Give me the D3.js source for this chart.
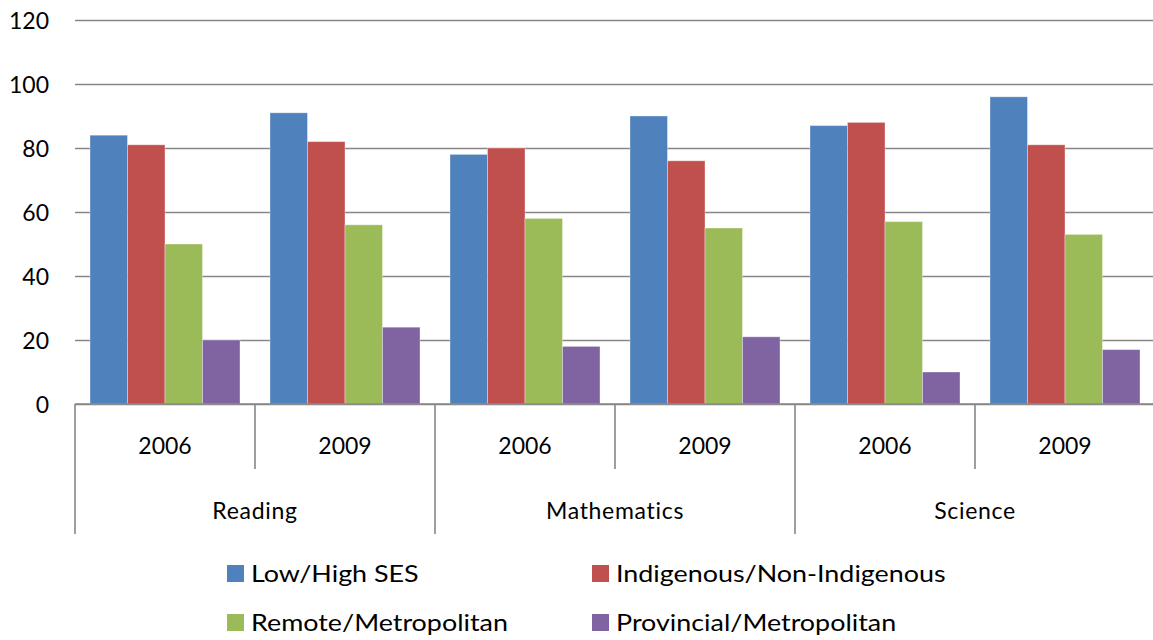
<!DOCTYPE html>
<html>
<head>
<meta charset="utf-8">
<script src="https://cdn.jsdelivr.net/npm/d3@7"></script>
<style>
  body { margin: 0; background: #fff; }
  text { font-family: Lato, "Open Sans", sans-serif; fill: #000; }
</style>
</head>
<body>
<script>
// data
var subjects = ["Reading", "Mathematics", "Science"];
var years = ["2006", "2009"];
var seriesNames = ["Low/High SES", "Indigenous/Non-Indigenous", "Remote/Metropolitan", "Provincial/Metropolitan"];
var seriesColors = ["#4F81BD", "#C0504D", "#9BBB59", "#8064A2"];
var lowHighSES = [84, 91, 78, 90, 87, 96];
var indigenous = [81, 82, 80, 76, 88, 81];
var remote = [50, 56, 58, 55, 57, 53];
var provincial = [20, 24, 18, 21, 10, 17];
var yTicks = [0, 20, 40, 60, 80, 100, 120];

var seriesValues = [lowHighSES, indigenous, remote, provincial];

var width = 1153, height = 640;
var plotLeft = 75, plotRight = 1155, plotTop = 20, plotBottom = 404;

var svg = d3.select("body")
  .append("svg")
  .attr("width", width)
  .attr("height", height);

// one slot per subject/year pair
var slots = [];
subjects.forEach(function(s) {
  years.forEach(function(y) { slots.push(s + "|" + y); });
});

var x0 = d3.scaleBand()
  .domain(slots)
  .range([plotLeft, plotRight])
  .padding(0);

var x1 = d3.scaleBand()
  .domain(d3.range(seriesNames.length))
  .range([0, x0.bandwidth()])
  .paddingInner(0)
  .paddingOuter(0.4);

var y = d3.scaleLinear()
  .domain([0, 120])
  .range([plotBottom, plotTop]);

// gridlines + y labels
var yAxis = d3.axisLeft(y)
  .tickValues(yTicks)
  .tickSize(-(plotRight - plotLeft))
  .tickPadding(26);

var gy = svg.append("g")
  .attr("transform", "translate(" + plotLeft + ",0)")
  .call(yAxis);
gy.select(".domain").remove();
gy.selectAll(".tick line")
  .attr("stroke", "#868686")
  .attr("stroke-width", 1.6);
gy.selectAll(".tick text")
  .style("font-size", "23px")
  .style("font-family", "Lato, sans-serif")
  .attr("fill", "#000")
  .attr("dy", "0.36em");

// bars
var rows = slots.map(function(k, i) {
  return seriesValues.map(function(vals, j) {
    return { slot: k, series: j, value: vals[i] };
  });
});

svg.append("g")
  .selectAll("g")
  .data(rows)
  .enter()
  .append("g")
    .attr("transform", function(d, i) { return "translate(" + x0(slots[i]) + ",0)"; })
  .selectAll("rect")
  .data(function(d) { return d; })
  .enter()
  .append("rect")
    .attr("x", function(d) { return x1(d.series); })
    .attr("y", function(d) { return y(d.value); })
    .attr("width", x1.bandwidth())
    .attr("height", function(d) { return y(0) - y(d.value); })
    .style("fill", function(d) { return seriesColors[d.series]; })
    .style("stroke", "#fff")
    .style("stroke-opacity", 0.35)
    .style("stroke-width", 1);

// category axis
var axisColor = "#868686";
svg.append("line")
  .attr("x1", plotLeft).attr("x2", plotRight)
  .attr("y1", plotBottom).attr("y2", plotBottom)
  .attr("stroke", axisColor).attr("stroke-width", 1.6);

// separators between years
svg.append("g")
  .selectAll("line")
  .data(subjects)
  .enter()
  .append("line")
    .attr("x1", function(s) { return x0(s + "|" + years[1]); })
    .attr("x2", function(s) { return x0(s + "|" + years[1]); })
    .attr("y1", plotBottom)
    .attr("y2", 469)
    .attr("stroke", axisColor).attr("stroke-width", 1.6);

// separators between subjects
var subjectEdges = subjects.map(function(s) { return x0(s + "|" + years[0]); }).concat([plotRight]);
svg.append("g")
  .selectAll("line")
  .data(subjectEdges)
  .enter()
  .append("line")
    .attr("x1", function(d) { return d; })
    .attr("x2", function(d) { return d; })
    .attr("y1", plotBottom)
    .attr("y2", 534)
    .attr("stroke", axisColor).attr("stroke-width", 1.6);

svg.append("g")
  .selectAll("text")
  .data(slots)
  .enter()
  .append("text")
    .attr("x", function(k) { return x0(k) + x0.bandwidth() / 2; })
    .attr("y", 446)
    .attr("dy", "0.36em")
    .style("text-anchor", "middle")
    .style("font-size", "23px")
    .text(function(k) { return k.split("|")[1]; });

svg.append("g")
  .selectAll("text")
  .data(subjects)
  .enter()
  .append("text")
    .attr("x", function(s) { return x0(s + "|" + years[0]) + x0.bandwidth(); })
    .attr("y", 511)
    .attr("dy", "0.36em")
    .style("text-anchor", "middle")
    .style("font-size", "23px")
    .style("letter-spacing", "0.7px")
    .text(function(s) { return s; });

// legend
var legendX = [227, 592];
var legendY = [565, 614];
var legend = svg.append("g")
  .selectAll("g")
  .data(seriesNames)
  .enter()
  .append("g")
    .attr("transform", function(d, i) {
      return "translate(" + legendX[i % 2] + "," + legendY[Math.floor(i / 2)] + ")";
    });
legend.append("rect")
  .attr("width", 17)
  .attr("height", 17)
  .style("fill", function(d, i) { return seriesColors[i]; });
legend.append("text")
  .attr("transform", "translate(24,8.5) scale(1.12,1)")
  .attr("dy", "0.36em")
  .style("font-size", "24px")
  .text(function(d) { return d; });
</script>
</body>
</html>
